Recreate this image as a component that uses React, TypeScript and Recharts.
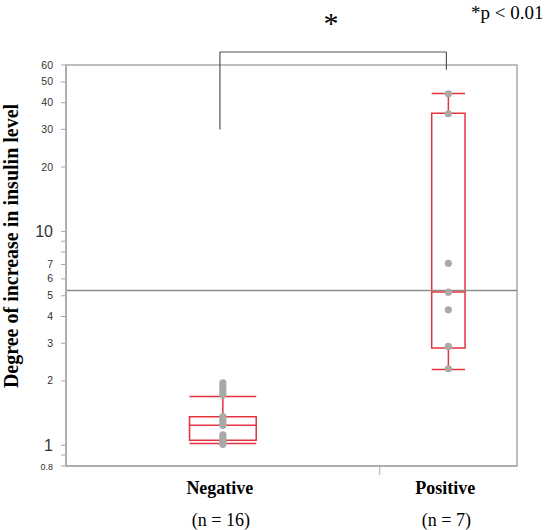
import React from 'react';
import {
  ComposedChart,
  XAxis,
  YAxis,
  Scatter,
  ReferenceLine,
  ReferenceArea,
} from 'recharts';

const categories = ['Negative', 'Positive'];
const counts = [16, 7];

const negativeValues = [1.96, 1.9, 1.84, 1.78, 1.72, 1.36, 1.32, 1.28, 1.24, 1.12, 1.09, 1.06, 1.04, 1.03, 1.02, 1.01];
const positiveValues = [44, 35.5, 7.1, 5.2, 4.3, 2.9, 2.28];

// box statistics (Negative, Positive)
const lowWhisker = [1.02, 2.26];
const q1 = [1.055, 2.85];
const median = [1.24, 5.21];
const q3 = [1.36, 35.7];
const highWhisker = [1.69, 44.2];

const grandMean = 5.3;
const pValueText = '*p < 0.01';

const yTicks = [0.8, 0.9, 1, 2, 3, 4, 5, 6, 7, 8, 9, 10, 20, 30, 40, 50, 60];
const yTickLabels = ['0.8', '', '1', '2', '3', '4', '5', '6', '7', '', '', '10', '20', '30', '40', '50', '60'];

// bracket over the two groups
const bracketTop = 69;
const bracketLeftEnd = 30;
const bracketRightEnd = 57;

const total = counts[0] + counts[1];
const centers = [counts[0] / 2, counts[0] + counts[1] / 2];
const divider = counts[0];
const boxHalf = [1.7, 0.85];
const bracketX = [centers[0] - 0.15, centers[1] - 0.1];

const points = [
  ...negativeValues.map((v) => ({ x: centers[0], y: v })),
  ...positiveValues.map((v) => ({ x: centers[1], y: v })),
];

const RED = '#e3343f';
const FRAME = '#a9a9a9';
const SERIF = "'Liberation Serif', 'Times New Roman', serif";
const SANS = "'Liberation Sans', Arial, sans-serif";

function YTick(props: any) {
  const { x, y, payload } = props;
  const i = yTicks.indexOf(payload.value);
  const label = yTickLabels[i];
  if (!label) return <g />;
  const big = payload.value === 1 || payload.value === 10;
  return (
    <text
      x={x}
      y={y}
      dy={big ? 6 : 3.5}
      textAnchor="end"
      fontSize={big ? 16 : label === '0.8' ? 9 : 10.5}
      style={{ fill: '#333' }}
      fontFamily={SANS}
    >
      {label}
    </text>
  );
}

function XTick(props: any) {
  const { x, y, payload } = props;
  if (payload.value === divider) {
    return <line x1={x} x2={x} y1={y + 1} y2={y + 9} stroke={FRAME} strokeWidth={1} />;
  }
  const i = centers.indexOf(payload.value);
  return (
    <g>
      <text x={x - 3} y={y + 28} textAnchor="middle" fontFamily={SERIF} fontWeight="bold" fontSize={18} fill="#000">
        {categories[i]}
      </text>
      <text x={x - 2} y={y + 60} textAnchor="middle" fontFamily={SERIF} fontSize={18} fill="#000">
        (n = {counts[i]})
      </text>
    </g>
  );
}

const Dot = (props: any) => <circle cx={props.cx} cy={props.cy} r={3.6} fill="#a9a9a9" />;

export default function App() {
  return (
    <div style={{ position: 'absolute', left: 0, top: 0, width: 551, height: 530, background: '#fff' }}>
      <ComposedChart width={551} height={530} margin={{ top: 65, right: 34, bottom: 4, left: 6 }}>
        <XAxis
          type="number"
          dataKey="x"
          domain={[0, total]}
          ticks={[centers[0], divider, centers[1]]}
          tick={<XTick />}
          tickLine={false}
          tickSize={0}
          tickMargin={0}
          axisLine={{ stroke: FRAME, strokeWidth: 1.5 }}
          height={60}
          interval={0}
        />
        <YAxis
          type="number"
          dataKey="y"
          scale="log"
          domain={[0.8, 60]}
          allowDataOverflow
          ticks={yTicks}
          tick={<YTick />}
          tickSize={5}
          tickMargin={8}
          tickLine={{ stroke: FRAME }}
          axisLine={{ stroke: FRAME, strokeWidth: 1.5 }}
          width={60}
          interval={0}
        />
        <ReferenceArea x1={0} x2={total} y1={0.8} y2={60} fill="none" stroke={FRAME} strokeWidth={1.5} />
        <ReferenceLine y={grandMean} stroke="#8c8c8c" strokeWidth={1.5} />

        {centers.map((c, i) => (
          <ReferenceArea
            key={'box' + i}
            x1={c - boxHalf[i]}
            x2={c + boxHalf[i]}
            y1={q1[i]}
            y2={q3[i]}
            fill="none"
            stroke={RED}
            strokeWidth={1.5}
          />
        ))}
        {centers.map((c, i) => (
          <ReferenceLine key={'med' + i} segment={[{ x: c - boxHalf[i], y: median[i] }, { x: c + boxHalf[i], y: median[i] }]} stroke={RED} strokeWidth={1.5} />
        ))}
        {centers.map((c, i) => (
          <ReferenceLine key={'wh' + i} segment={[{ x: c, y: q3[i] }, { x: c, y: highWhisker[i] }]} stroke={RED} strokeWidth={1.5} />
        ))}
        {centers.map((c, i) => (
          <ReferenceLine key={'wl' + i} segment={[{ x: c, y: q1[i] }, { x: c, y: lowWhisker[i] }]} stroke={RED} strokeWidth={1.5} />
        ))}
        {centers.map((c, i) => (
          <ReferenceLine key={'ch' + i} segment={[{ x: c - boxHalf[i], y: highWhisker[i] }, { x: c + boxHalf[i], y: highWhisker[i] }]} stroke={RED} strokeWidth={1.5} />
        ))}
        {centers.map((c, i) => (
          <ReferenceLine key={'cl' + i} segment={[{ x: c - boxHalf[i], y: lowWhisker[i] }, { x: c + boxHalf[i], y: lowWhisker[i] }]} stroke={RED} strokeWidth={1.5} />
        ))}

        <ReferenceLine
          segment={[{ x: bracketX[0], y: bracketLeftEnd }, { x: bracketX[0], y: bracketTop }]}
          stroke="#555"
          strokeWidth={1.2}
          ifOverflow="visible"
        />
        <ReferenceLine
          segment={[{ x: bracketX[0], y: bracketTop }, { x: bracketX[1], y: bracketTop }]}
          stroke="#555"
          strokeWidth={1.2}
          ifOverflow="visible"
        />
        <ReferenceLine
          segment={[{ x: bracketX[1], y: bracketTop }, { x: bracketX[1], y: bracketRightEnd }]}
          stroke="#555"
          strokeWidth={1.2}
          ifOverflow="visible"
        />

        <Scatter data={points} shape={<Dot />} isAnimationActive={false} />
      </ComposedChart>

      <svg width={551} height={530} style={{ position: 'absolute', left: 0, top: 0, pointerEvents: 'none' }}>
        <text
          transform="translate(18, 246) rotate(-90)"
          textAnchor="middle"
          fontFamily={SERIF}
          fontWeight="bold"
          fontSize={20}
          fill="#000"
        >
          Degree of increase in insulin level
        </text>
        <text x={331} y={33} textAnchor="middle" fontFamily={SERIF} fontSize={30} fill="#000">
          *
        </text>
        <text x={471} y={19} fontFamily={SERIF} fontSize={19} fill="#000">
          {pValueText}
        </text>
      </svg>
    </div>
  );
}
